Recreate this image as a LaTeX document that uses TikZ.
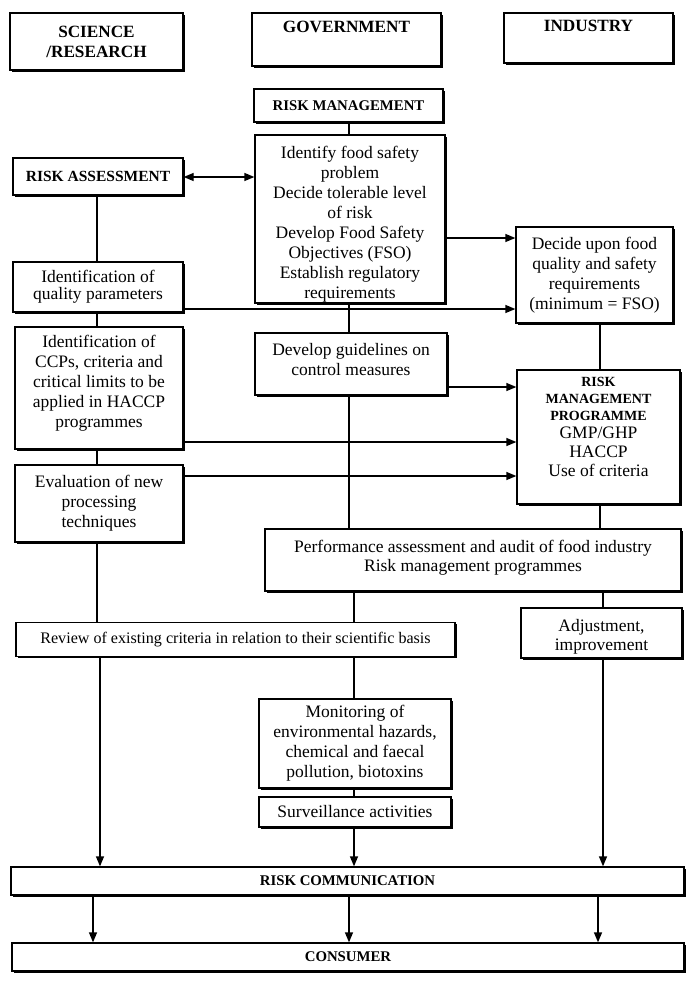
\documentclass[tikz,border=0pt]{standalone}
\usepackage{fontspec}
\setmainfont{Liberation Serif}
\usetikzlibrary{arrows.meta,shadows,calc}
\newcommand\bsmallfnt{\fontsize{14}{18}\selectfont\bfseries}
\newcommand\normfnt{\fontsize{17.5}{20}\selectfont\mdseries}
\newcommand\toppad[1]{\rule{0pt}{#1}}
\newcommand\botpad[1]{\rule[-#1]{0pt}{0pt}}
\begin{document}
\begin{tikzpicture}[x=1pt,y=-1pt,
  bx/.style={draw,line width=1.3pt,fill=white,inner sep=0pt,align=center,
    general shadow={fill=black,shadow xshift=1.8pt,shadow yshift=-1.8pt},
    font=\fontsize{17.5}{20}\selectfont},
  hd/.style={font=\fontsize{17.2}{20}\selectfont\bfseries},
  sh/.style={font=\fontsize{14.8}{20}\selectfont\bfseries},
  ln/.style={line width=1.3pt},
  arr/.style={line width=1.3pt,-{Triangle[length=10pt,width=8pt]}},
  darr/.style={line width=1.3pt,{Triangle[length=10pt,width=8pt]}-{Triangle[length=10pt,width=8pt]}}
]
\useasboundingbox (0,0) rectangle (700,982);
% header boxes
\node[bx,hd,minimum width=173pt,minimum height=57pt] (sci) at (96.5,41.5) {SCIENCE\\/RESEARCH};
\node[bx,hd,minimum width=189pt,minimum height=53pt] (gov) at (346.5,39.5) {GOVERNMENT\botpad{25pt}};
\node[bx,hd,minimum width=169pt,minimum height=50pt] (ind) at (588.5,38) {INDUSTRY\botpad{24pt}};
% government column
\node[bx,sh,minimum width=189pt,minimum height=33pt] (rm) at (348.5,105.5) {RISK MANAGEMENT};
\node[bx,minimum width=190pt,minimum height=168pt] (ident) at (350,219)
  {\toppad{22pt}Identify food safety\\problem\\Decide tolerable level\\of risk\\Develop Food Safety\\Objectives (FSO)\\Establish regulatory\\requirements};
\node[bx,minimum width=192pt,minimum height=62pt] (devg) at (351,364)
  {Develop guidelines on\\control measures\botpad{10pt}};
\node[bx,minimum width=416pt,minimum height=62pt] (perf) at (473,560)
  {Performance assessment and audit of food industry\\[-1pt]Risk management programmes\botpad{9pt}};
\node[bx,minimum width=192pt,minimum height=89pt] (mon) at (355,743.5)
  {Monitoring of\\environmental hazards,\\chemical and faecal\\pollution, biotoxins};
\node[bx,minimum width=192pt,minimum height=30pt] (surv) at (355,812) {Surveillance activities};
% science column
\node[bx,font=\fontsize{15.5}{20}\selectfont\bfseries,minimum width=170pt,minimum height=37pt] (ra) at (98,176.5) {RISK ASSESSMENT};
\node[bx,minimum width=170pt,minimum height=50pt] (qual) at (98,287)
  {Identification of\\[-3pt]quality parameters};
\node[bx,minimum width=168pt,minimum height=122pt] (ccps) at (99,388)
  {Identification of\\CCPs, criteria and\\critical limits to be\\applied in HACCP\\programmes\botpad{14pt}};
\node[bx,minimum width=168pt,minimum height=77pt] (eval) at (99,503.5)
  {Evaluation of new\\processing\\techniques};
\node[bx,minimum width=439pt,minimum height=34pt,font=\fontsize{16.1}{20}\selectfont] (rev) at (235.5,639.5)
  {Review of existing criteria in relation to their scientific basis};
% industry column
\node[bx,minimum width=157pt,minimum height=96pt] (decide) at (594.5,275)
  {Decide upon food\\quality and safety\\requirements\\(minimum = FSO)};
\node[bx,minimum width=163pt,minimum height=134pt] (rmp) at (598.5,437)
  {\bsmallfnt RISK\\[-3pt]\bsmallfnt MANAGEMENT\\[-3pt]\bsmallfnt PROGRAMME\\[-2pt]\normfnt GMP/GHP\\[-1pt]\normfnt HACCP\\[-1pt]\normfnt Use of criteria\botpad{20pt}};
\node[bx,minimum width=161pt,minimum height=50pt] (adj) at (601.5,633)
  {\toppad{19pt}Adjustment,\\[-1pt]improvement};
% bottom
\node[bx,sh,minimum width=673pt,minimum height=28pt] (rc) at (347.5,881) {RISK COMMUNICATION};
\node[bx,sh,minimum width=672pt,minimum height=28pt] (cons) at (348,957) {CONSUMER};

% helper coordinates
\coordinate (cg) at (349,0);
\coordinate (cg2) at (354,0);
\coordinate (ci) at (600,0);
\coordinate (ci2) at (603,0);
\coordinate (cs) at (97,0);
\coordinate (cs2) at (100,0);
\coordinate (y1) at (0,177);
\coordinate (y2) at (0,238);
\coordinate (y3) at (0,309);
\coordinate (y4) at (0,387);
\coordinate (y5) at (0,442);
\coordinate (y6) at (0,476);
\coordinate (a1) at (93,0);
\coordinate (a2) at (349,0);
\coordinate (a3) at (598,0);

% government column connectors
\draw[ln] (rm.south -| cg) -- (ident.north -| cg);
\draw[ln] (ident.south -| cg) -- (devg.north -| cg);
\draw[ln] (devg.south -| cg) -- (perf.north -| cg);
\draw[ln] (perf.south -| cg2) -- (rev.north -| cg2);
\draw[ln] (rev.south -| cg2) -- (mon.north -| cg2);
\draw[ln] (mon.south -| cg2) -- (surv.north -| cg2);
\draw[arr] (surv.south -| cg2) -- (rc.north -| cg2);
% science column connectors
\draw[darr] (ra.east |- y1) -- (ident.west |- y1);
\draw[ln] (ra.south -| cs) -- (qual.north -| cs);
\draw[ln] (qual.south -| cs) -- (ccps.north -| cs);
\draw[ln] (ccps.south -| cs) -- (eval.north -| cs);
\draw[ln] (eval.south -| cs) -- (rev.north -| cs);
\draw[arr] (rev.south -| cs2) -- (rc.north -| cs2);
% industry column connectors
\draw[ln] (decide.south -| ci) -- (rmp.north -| ci);
\draw[ln] (rmp.south -| ci) -- (perf.north -| ci);
\draw[ln] (perf.south -| ci2) -- (adj.north -| ci2);
\draw[arr] (adj.south -| ci2) -- (rc.north -| ci2);
% horizontal arrows
\draw[arr] (ident.east |- y2) -- (decide.west |- y2);
\draw[arr] (qual.east |- y3) -- (decide.west |- y3);
\draw[arr] (devg.east |- y4) -- (rmp.west |- y4);
\draw[arr] (ccps.east |- y5) -- (rmp.west |- y5);
\draw[arr] (eval.east |- y6) -- (rmp.west |- y6);
% to consumer
\draw[arr] (rc.south -| a1) -- (cons.north -| a1);
\draw[arr] (rc.south -| a2) -- (cons.north -| a2);
\draw[arr] (rc.south -| a3) -- (cons.north -| a3);
\end{tikzpicture}
\end{document}
